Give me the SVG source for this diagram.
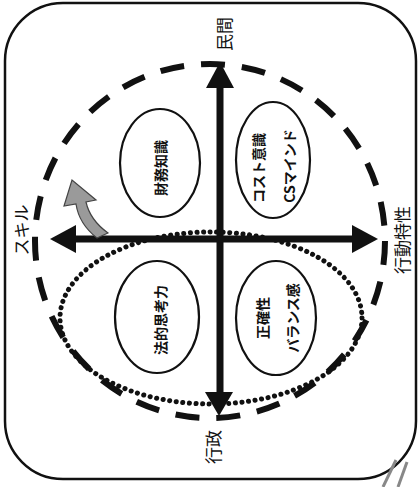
<svg xmlns="http://www.w3.org/2000/svg" width="420" height="487" viewBox="0 0 420 487">
<defs>
<style>
.lbl{font-family:"Noto Sans CJK JP","Noto Sans",sans-serif;font-size:17px;fill:#111;text-anchor:middle;dominant-baseline:central}
.in{font-family:"Noto Sans CJK JP","Noto Sans",sans-serif;font-size:14px;font-weight:bold;fill:#111;text-anchor:middle;dominant-baseline:central}
.node{fill:#fff;stroke:#111;stroke-width:2.2}
.ax{stroke:#111;stroke-width:7;fill:none}
.head{fill:#111}
</style>
</defs>
<rect width="420" height="487" fill="#fff"/>
<rect x="5" y="3" width="411" height="476" rx="58" ry="58" fill="none" stroke="#111" stroke-width="2.5"/>
<g id="scan-marks" stroke="#888" fill="none">
<path d="M383 487 L396 460" stroke-width="3"/>
<path d="M398 487 L407 462" stroke-width="3"/>
</g>
<g id="dashed-region"><ellipse cx="210" cy="241" rx="175" ry="177" fill="none" stroke="#111" stroke-width="6" stroke-dasharray="24 17"/></g>
<g id="dotted-region"><ellipse cx="211" cy="318" rx="151" ry="86" fill="none" stroke="#111" stroke-width="5" stroke-linecap="round" stroke-dasharray="0.1 6.5"/></g>
<g id="zaimu"><ellipse class="node" cx="160" cy="163" rx="40" ry="54"/><text class="in" transform="translate(160,168) rotate(-90)">財務知識</text></g>
<g id="cost"><ellipse class="node" cx="273" cy="160" rx="37" ry="58"/><text class="in" transform="translate(258,168) rotate(-90)">コスト意識</text><text class="in" transform="translate(289,166) rotate(-90)">CSマインド</text></g>
<g id="houteki"><ellipse class="node" cx="157" cy="317" rx="42" ry="56"/><text class="in" transform="translate(160,320) rotate(-90)">法的思考力</text></g>
<g id="seikaku"><ellipse class="node" cx="276" cy="318" rx="40" ry="57"/><text class="in" transform="translate(262,318) rotate(-90)">正確性</text><text class="in" transform="translate(292,318) rotate(-90)">バランス感</text></g>
<g id="connectors">
<line class="ax" x1="220" y1="82" x2="220" y2="398"/>
<polygon class="head" points="220,62 206,88 234,88"/>
<polygon class="head" points="219,416 205,392 233,392"/>
<line class="ax" x1="70" y1="239" x2="358" y2="239"/>
<polygon class="head" points="50,239 76,225 76,253"/>
<polygon class="head" points="378,239 352,225 352,253"/>
<path d="M97 238 Q79 224 76 204 L64 206 L72 180 L96 200 L86 202 Q90 220 108 233 Z" fill="#9a9a9a" stroke="#444" stroke-width="1.2"/>
</g>
<g id="labels">
<text class="lbl" transform="translate(223,34) rotate(-90)">民間</text>
<text class="lbl" transform="translate(212,447) rotate(-90)">行政</text>
<text class="lbl" transform="translate(20,230) rotate(-90)">スキル</text>
<text class="lbl" transform="translate(401,240) rotate(-90)">行動特性</text>
</g>
</svg>
